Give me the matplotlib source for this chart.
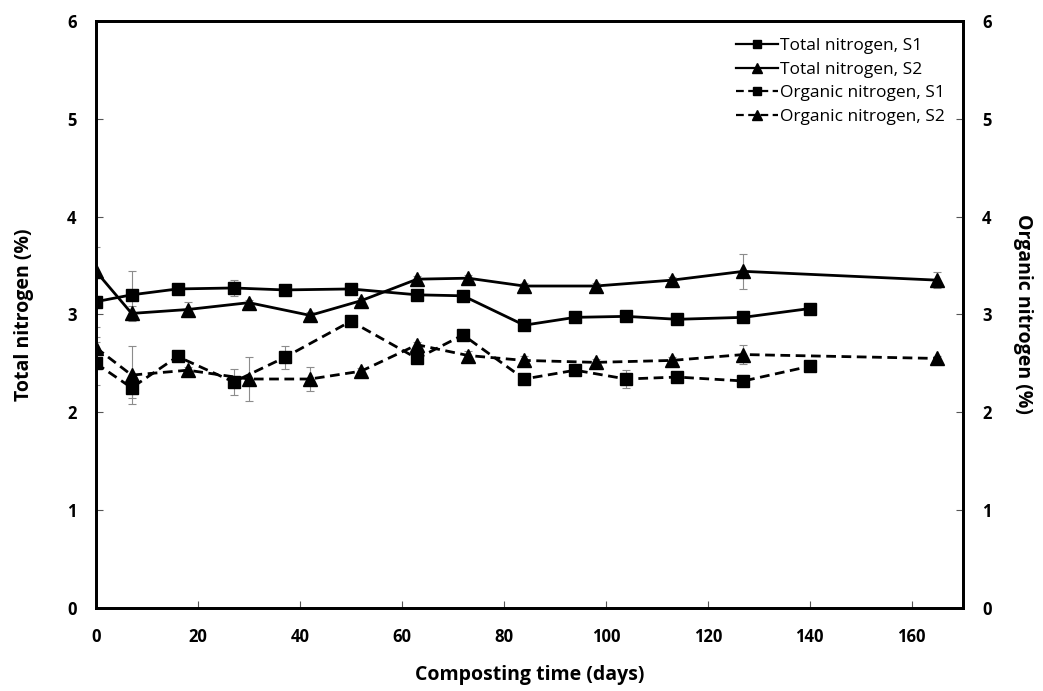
import matplotlib
matplotlib.use('Agg')
from matplotlib import pyplot as plt

matplotlib.rcParams['font.family'] = ['Open Sans', 'DejaVu Sans']

# data
days_s1 = [0, 7, 16, 27, 37, 50, 63, 72, 84, 94, 104, 114, 127, 140]
days_s2 = [0, 7, 18, 30, 42, 52, 63, 73, 84, 98, 113, 127, 165]

tn_s1 = [3.13, 3.20, 3.26, 3.27, 3.25, 3.26, 3.20, 3.19, 2.89, 2.97, 2.98, 2.95, 2.97, 3.06]
tn_s2 = [3.44, 3.01, 3.05, 3.12, 2.99, 3.14, 3.36, 3.37, 3.29, 3.29, 3.35, 3.44, 3.35]
on_s1 = [2.50, 2.25, 2.57, 2.31, 2.56, 2.93, 2.55, 2.79, 2.34, 2.43, 2.34, 2.36, 2.32, 2.47]
on_s2 = [2.66, 2.38, 2.43, 2.34, 2.34, 2.42, 2.69, 2.58, 2.53, 2.51, 2.53, 2.59, 2.55]

tn_s1_err = [0.26, 0.24, 0.03, 0.08, 0.03, 0.03, 0.03, 0.03, 0.03, 0.05, 0.03, 0.03, 0.03, 0.03]
tn_s2_err = [0.25, 0.08, 0.08, 0.03, 0.03, 0.03, 0.03, 0.03, 0.03, 0.03, 0.03, 0.18, 0.08]
on_s1_err = [0.22, 0.10, 0.03, 0.13, 0.12, 0.03, 0.03, 0.03, 0.03, 0.03, 0.09, 0.03, 0.03, 0.03]
on_s2_err = [0.11, 0.30, 0.03, 0.22, 0.12, 0.03, 0.03, 0.05, 0.05, 0.03, 0.03, 0.10, 0.03]

labels = ['Total nitrogen, S1', 'Total nitrogen, S2',
          'Organic nitrogen, S1', 'Organic nitrogen, S2']

tick_fs = 12
label_fs = 14
err_kw = dict(fmt='none', ecolor='#8c8c8c', elinewidth=0.8, capsize=3, capthick=0.8)

fig = plt.figure(figsize=(10.43, 6.91), dpi=100)
ax = fig.add_axes([0.092, 0.120, 0.831, 0.850])
ax2 = ax.twinx()

# error bars first (gray, no legend entry), then the lines on top
ax.errorbar(days_s1, tn_s1, yerr=tn_s1_err, **err_kw)
ax.errorbar(days_s2, tn_s2, yerr=tn_s2_err, **err_kw)
ax.errorbar(days_s1, on_s1, yerr=on_s1_err, **err_kw)
ax.errorbar(days_s2, on_s2, yerr=on_s2_err, **err_kw)

dash = (0, (3.5, 2))
ax.plot(days_s1, tn_s1, color='k', lw=2, marker='s', ms=9, label=labels[0])
ax.plot(days_s2, tn_s2, color='k', lw=2, marker='^', ms=10, label=labels[1])
ax.plot(days_s1, on_s1, color='k', lw=2, ls=dash, marker='s', ms=9, label=labels[2])
ax.plot(days_s2, on_s2, color='k', lw=2, ls=dash, marker='^', ms=10, label=labels[3])

for a in (ax, ax2):
    a.set_xlim(0, 170)
    a.set_ylim(0, 6)
    a.set_yticks(range(0, 7))
    for s in a.spines.values():
        s.set_linewidth(2)
    a.tick_params(axis='both', direction='in', length=5, width=0.8, color='#555555',
                  labelsize=tick_fs, pad=14)

ax.set_xticks(range(0, 161, 20))
for a in (ax, ax2):
    for t in a.get_yticklabels() + a.get_xticklabels():
        t.set_fontweight('bold')

ax.set_xlabel('Composting time (days)', fontsize=label_fs, fontweight='bold', labelpad=14)
ax.set_ylabel('Total nitrogen (%)', fontsize=label_fs, fontweight='bold', labelpad=24)
ax2.set_ylabel('Organic nitrogen (%)', fontsize=label_fs, fontweight='bold',
               rotation=270, labelpad=30)

leg = ax.legend(loc='upper right', frameon=False, fontsize=12.5, handlelength=2.4,
                handletextpad=0.15, labelspacing=0.42, borderaxespad=0.6,
                markerscale=0.7)
for h in leg.get_lines():
    h.set_linewidth(1.6)

fig.savefig('out.png', dpi=100)
